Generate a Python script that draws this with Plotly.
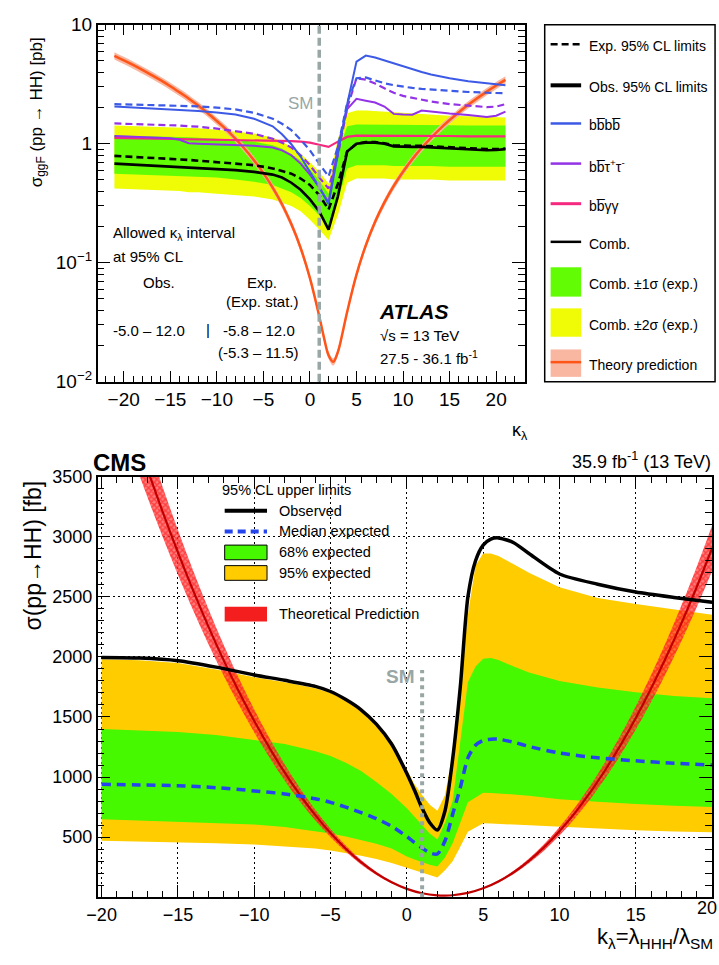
import plotly.graph_objects as go

W, H = 719, 965
FONT = "Liberation Sans, Arial, Helvetica, sans-serif"

# ---------------- ATLAS: sigma_ggF(pp -> HH) [pb] vs kappa_lambda ----------------
kl_atlas = [-21, -18, -15, -14, -13, -12, -10, -8, -6, -4, -3, -2, -1, 0, 1, 2, 3, 4,
            5, 6, 7, 8, 9, 10, 11, 12, 13, 15, 17, 19, 20, 21]
bbbb_obs = [2.05, 2.00, 1.95, 1.93, 1.90, 1.88, 1.83, 1.76, 1.62, 1.40, 1.20, 0.99, 0.78,
            0.58, 0.43, 0.31, 0.85, 2.15, 4.90, 5.50, 5.30, 5.00, 4.70, 4.45, 4.20, 4.00,
            3.82, 3.55, 3.35, 3.20, 3.15, 3.10]
bbbb_exp = [2.15, 2.13, 2.11, 2.10, 2.08, 2.06, 2.01, 1.94, 1.82, 1.62, 1.47, 1.30, 1.08,
            0.88, 0.68, 0.53, 0.94, 2.20, 3.55, 3.60, 3.40, 3.22, 3.10, 3.00, 2.94, 2.89,
            2.85, 2.78, 2.72, 2.68, 2.66, 2.65]
bbtt_obs = [1.16, 1.14, 1.11, 1.08, 1.01, 1.00, 0.99, 0.975, 0.96, 0.93, 0.88, 0.80, 0.68,
            0.55, 0.43, 0.32, 0.95, 1.95, 2.38, 2.30, 2.22, 2.05, 1.78, 1.76, 1.75, 1.90,
            1.86, 1.79, 1.74, 1.68, 1.72, 1.86]
bbtt_exp = [1.48, 1.46, 1.43, 1.42, 1.40, 1.39, 1.34, 1.28, 1.21, 1.10, 1.02, 0.93, 0.80,
            0.66, 0.52, 0.42, 0.80, 2.00, 3.55, 3.45, 3.20, 2.92, 2.68, 2.52, 2.42, 2.33,
            2.26, 2.15, 2.08, 2.03, 2.05, 2.15]
bbyy_obs = [1.12, 1.11, 1.10, 1.10, 1.09, 1.09, 1.08, 1.08, 1.07, 1.07, 1.06, 1.05, 1.04,
            1.02, 0.98, 0.94, 1.04, 1.14, 1.17, 1.17, 1.17, 1.17, 1.16, 1.16, 1.16, 1.16,
            1.16, 1.16, 1.15, 1.15, 1.15, 1.15]
comb_obs = [0.68, 0.66, 0.645, 0.64, 0.625, 0.62, 0.61, 0.60, 0.58, 0.55, 0.52, 0.47, 0.41,
            0.34, 0.27, 0.19, 0.36, 0.86, 1.00, 1.02, 1.02, 1.00, 0.95, 0.94, 0.94, 0.94,
            0.93, 0.91, 0.90, 0.88, 0.885, 0.90]
comb_exp = [0.79, 0.77, 0.75, 0.74, 0.73, 0.72, 0.70, 0.68, 0.66, 0.62, 0.59, 0.56, 0.51,
            0.45, 0.37, 0.28, 0.46, 0.86, 1.00, 1.03, 1.03, 1.01, 0.97, 0.96, 0.96, 0.96,
            0.95, 0.93, 0.92, 0.90, 0.90, 0.91]
comb_2s_hi = [1.42, 1.40, 1.38, 1.37, 1.36, 1.35, 1.31, 1.27, 1.22, 1.12, 1.04, 0.94, 0.82,
              0.70, 0.58, 0.46, 1.10, 1.80, 1.90, 1.90, 1.88, 1.86, 1.83, 1.80, 1.78, 1.77,
              1.75, 1.72, 1.70, 1.68, 1.67, 1.66]
comb_1s_hi = [1.17, 1.16, 1.15, 1.14, 1.13, 1.12, 1.10, 1.08, 1.04, 0.97, 0.91, 0.82, 0.72,
              0.61, 0.49, 0.38, 0.85, 1.40, 1.45, 1.45, 1.45, 1.45, 1.44, 1.44, 1.44, 1.43,
              1.43, 1.43, 1.42, 1.42, 1.42, 1.42]
comb_1s_lo = [0.56, 0.55, 0.54, 0.54, 0.53, 0.53, 0.52, 0.50, 0.48, 0.45, 0.42, 0.39, 0.35,
              0.30, 0.25, 0.20, 0.33, 0.62, 0.66, 0.66, 0.66, 0.66, 0.65, 0.65, 0.65, 0.65,
              0.65, 0.64, 0.64, 0.64, 0.64, 0.64]
comb_2s_lo = [0.42, 0.41, 0.40, 0.40, 0.39, 0.39, 0.38, 0.37, 0.36, 0.34, 0.32, 0.30, 0.27,
              0.23, 0.19, 0.155, 0.25, 0.47, 0.51, 0.51, 0.51, 0.51, 0.50, 0.50, 0.50, 0.50,
              0.50, 0.49, 0.49, 0.49, 0.49, 0.49]

kl_theory_atlas = list(range(-21, 1)) + [1, 1.5, 2, 2.5, 3, 3.5, 4] + list(range(5, 22))
theory_atlas = [5.48, 5.02, 4.59, 4.17, 3.77, 3.40, 3.04, 2.70, 2.39, 2.09, 1.81, 1.55,
                1.32, 1.10, 0.902, 0.724, 0.566, 0.428, 0.310, 0.211, 0.133, 0.0742,
                0.0355, 0.0236, 0.0167, 0.0147, 0.0178, 0.0257, 0.0387,
                0.0795, 0.140, 0.221, 0.321, 0.442, 0.582, 0.742, 0.922, 1.12, 1.34,
                1.58, 1.84, 2.12, 2.42, 2.74, 3.08, 3.44]
theory_atlas_rel_unc = 0.07

atlas_xticks = [-20, -15, -10, -5, 0, 5, 10, 15, 20]
atlas_yticks = [0.01, 0.1, 1, 10]
atlas_yticktext = ["10<sup>−2</sup>", "10<sup>−1</sup>", "1", "10"]

# ---------------- CMS: sigma(pp -> HH) [fb] vs k_lambda ----------------
kl_cms = [-20, -17.5, -15, -12.5, -10, -8, -6, -5, -4, -3, -2, -1, 0, 0.5, 1, 1.5, 2, 2.5,
          3, 3.5, 4, 4.5, 5, 5.5, 6, 7, 8, 10, 12.5, 15, 17.5, 20]
cms_obs = [1995, 1990, 1968, 1915, 1850, 1805, 1755, 1712, 1645, 1560, 1440, 1275, 1030,
           890, 740, 620, 560, 720, 1150, 1750, 2500, 2800, 2930, 2980, 2990, 2950, 2860,
           2690, 2605, 2540, 2495, 2455]
cms_exp = [940, 935, 928, 912, 885, 860, 820, 790, 750, 705, 655, 590, 505, 455, 410, 370,
           360, 470, 690, 910, 1160, 1265, 1305, 1315, 1315, 1290, 1255, 1200, 1160, 1135,
           1115, 1100]
cms_68_hi = [1400, 1390, 1375, 1350, 1310, 1275, 1215, 1175, 1120, 1050, 960, 860, 740, 670,
             600, 530, 480, 620, 800, 1300, 1790, 1920, 1985, 1990, 1975, 1920, 1870, 1800,
             1745, 1705, 1675, 1655]
cms_68_lo = [650, 640, 630, 618, 605, 585, 550, 530, 505, 475, 445, 405, 340, 315, 290, 270,
             255, 330, 450, 620, 790, 830, 870, 868, 865, 855, 845, 815, 795, 775, 762, 750]
cms_95_hi = [1980, 1972, 1950, 1895, 1830, 1790, 1740, 1700, 1640, 1560, 1450, 1300, 1060,
             940, 850, 770, 720, 850, 1200, 1770, 2350, 2760, 2860, 2860, 2840, 2770, 2700,
             2580, 2490, 2440, 2395, 2350]
cms_95_lo = [470, 465, 458, 450, 440, 425, 405, 390, 370, 345, 318, 285, 245, 225, 205, 185,
             165, 225, 300, 420, 545, 580, 615, 613, 610, 605, 598, 585, 570, 558, 548, 540]

kl_theory_cms = list(range(-20, 3)) + [2.5] + list(range(3, 21))
theory_cms = [4740, 4328, 3935, 3561, 3206, 2869, 2551, 2252, 1971, 1710, 1467, 1243, 1037,
              851, 683, 534, 404, 292, 199, 125, 70, 33.5, 15.7, 13.9, 16.8, 36.5, 75, 132,
              208, 303, 417, 549, 700, 870, 1059, 1266, 1492, 1737, 2001, 2283, 2584, 2904]
theory_cms_rel_unc = 0.065

cms_xticks = [-20, -15, -10, -5, 0, 5, 10, 15, 20]
cms_yticks = [500, 1000, 1500, 2000, 2500, 3000, 3500]

sm_kappa = 1
sm_line_top_cms = 1890

# ---------------- colours ----------------
ATLAS_YELLOW = "#effc05"
ATLAS_GREEN = "#62fc05"
ATLAS_BLUE = "#3c5ae6"
ATLAS_PURPLE = "#9332e6"
ATLAS_PINK = "#f5297f"
ATLAS_THEORY = "#ff5519"
ATLAS_THEORY_BAND = "#f9b6a0"
CMS_ORANGE = "#ffcc00"
CMS_GREEN = "#46f800"
CMS_BLUE = "#2444ee"
CMS_RED = "#ff0000"
SM_GREY = "#98a7a5"


def xp(px):
    return px / W


def yp(py):
    return 1 - py / H


fig = go.Figure()


def add_band(x, lo, hi, color, xa, ya, shape="linear", pattern=None):
    fig.add_trace(go.Scatter(x=x, y=lo, mode="lines", line=dict(width=0, color=color, shape=shape),
                             xaxis=xa, yaxis=ya, hoverinfo="skip", showlegend=False))
    extra = dict(fill="tonexty", fillcolor=color)
    if pattern is not None:
        extra["fillpattern"] = pattern
    fig.add_trace(go.Scatter(x=x, y=hi, mode="lines", line=dict(width=0, color=color, shape=shape),
                             xaxis=xa, yaxis=ya, hoverinfo="skip", showlegend=False, **extra))


def add_line(x, y, color, width, dash="solid", xa="x", ya="y", shape="linear", smoothing=1.0):
    fig.add_trace(go.Scatter(x=x, y=y, mode="lines",
                             line=dict(color=color, width=width, dash=dash, shape=shape,
                                       smoothing=smoothing),
                             xaxis=xa, yaxis=ya, hoverinfo="skip", showlegend=False))


# ---- ATLAS panel ----
add_band(kl_atlas, comb_2s_lo, comb_2s_hi, ATLAS_YELLOW, "x", "y")
add_band(kl_atlas, comb_1s_lo, comb_1s_hi, ATLAS_GREEN, "x", "y")
add_band(kl_theory_atlas,
         [v * (1 - theory_atlas_rel_unc) for v in theory_atlas],
         [v * (1 + theory_atlas_rel_unc) for v in theory_atlas],
         ATLAS_THEORY_BAND, "x", "y", shape="spline")
add_line(kl_theory_atlas, theory_atlas, ATLAS_THEORY, 2.5, shape="spline")
add_line(kl_atlas, bbyy_obs, ATLAS_PINK, 2.2)
add_line(kl_atlas, bbtt_exp, ATLAS_PURPLE, 2.2, dash="7px,4px")
add_line(kl_atlas, bbtt_obs, ATLAS_PURPLE, 2.0)
add_line(kl_atlas, bbbb_exp, ATLAS_BLUE, 2.2, dash="7px,4px")
add_line(kl_atlas, bbbb_obs, ATLAS_BLUE, 2.0)
add_line(kl_atlas, comb_exp, "black", 2.6, dash="7px,4px")
add_line(kl_atlas, comb_obs, "black", 2.6)

# ---- CMS panel ----
add_band(kl_cms, cms_95_lo, cms_95_hi, CMS_ORANGE, "x2", "y2")
add_band(kl_cms, cms_68_lo, cms_68_hi, CMS_GREEN, "x2", "y2")
add_band(kl_theory_cms,
         [v * (1 - theory_cms_rel_unc) for v in theory_cms],
         [v * (1 + theory_cms_rel_unc) for v in theory_cms],
         "rgba(255,40,40,0.75)", "x2", "y2", shape="spline",
         pattern=dict(shape="x", fgcolor=CMS_RED, bgcolor="rgba(255,70,70,0.7)",
                      size=4, solidity=0.6))
add_line(kl_theory_cms, theory_cms, "#c00000", 2.2, xa="x2", ya="y2", shape="spline")
add_line(kl_cms, cms_exp, CMS_BLUE, 3.5, dash="9px,6px", xa="x2", ya="y2",
         shape="spline", smoothing=0.7)
add_line(kl_cms, cms_obs, "black", 3.5, xa="x2", ya="y2", shape="spline", smoothing=0.7)

# ---- axes ----
frame = dict(showline=True, linecolor="black", linewidth=1.5, mirror="allticks",
             ticks="inside", tickcolor="black", zeroline=False)

fig.update_layout(
    width=W, height=H, margin=dict(l=0, r=0, t=0, b=0),
    paper_bgcolor="white", plot_bgcolor="white", showlegend=False,
    font=dict(family=FONT, color="black"),
    xaxis=dict(domain=[xp(88), xp(522)], anchor="y", range=[-22.8, 23.1],
               tickmode="array", tickvals=atlas_xticks, ticklen=11, tickwidth=1.2,
               minor=dict(ticks="inside", ticklen=6, tickwidth=1, dtick=1, tick0=0,
                          tickcolor="black"),
               showgrid=False, tickfont=dict(size=19), **frame),
    yaxis=dict(domain=[yp(380), yp(15)], anchor="x", type="log", range=[-2, 1],
               tickmode="array", tickvals=atlas_yticks, ticktext=atlas_yticktext,
               ticklen=13, tickwidth=1.2,
               minor=dict(ticks="inside", ticklen=7, tickwidth=1, tickcolor="black",
                          tickvals=[m * d for d in (0.01, 0.1, 1) for m in range(2, 10)]),
               showgrid=False, tickfont=dict(size=19), **frame),
    xaxis2=dict(domain=[xp(88), xp(712)], anchor="y2", range=[-20.26, 20.0],
                tickmode="array", tickvals=cms_xticks, ticklen=13, tickwidth=1.2,
                minor=dict(ticks="inside", ticklen=7, tickwidth=1, dtick=1, tick0=0,
                           tickcolor="black", showgrid=False),
                showgrid=True, gridcolor="black", griddash="2px,3px", gridwidth=1,
                tickfont=dict(size=18), **frame),
    yaxis2=dict(domain=[yp(907), yp(477)], anchor="x2", range=[0, 3500],
                tickmode="array", tickvals=cms_yticks, ticklen=13, tickwidth=1.2,
                minor=dict(ticks="inside", ticklen=7, tickwidth=1, dtick=100, tick0=0,
                           tickcolor="black", showgrid=False),
                showgrid=True, gridcolor="black", griddash="2px,3px", gridwidth=1,
                tickfont=dict(size=18), **frame),
)

shapes = []
# SM reference lines
shapes.append(dict(type="line", xref="x", yref="y domain", x0=sm_kappa, x1=sm_kappa,
                   y0=0, y1=1, line=dict(color=SM_GREY, width=3.5, dash="8px,4px"),
                   layer="above"))
shapes.append(dict(type="line", xref="x2", yref="y2", x0=sm_kappa, x1=sm_kappa,
                   y0=0, y1=sm_line_top_cms, line=dict(color=SM_GREY, width=4, dash="4px,4px"),
                   layer="above"))

annotations = []


def note(text, x, y, size=15, xanchor="left", yanchor="middle", color="black", angle=0):
    annotations.append(dict(text=text, x=xp(x), y=yp(y), xref="paper", yref="paper",
                            showarrow=False, xanchor=xanchor, yanchor=yanchor,
                            textangle=angle, font=dict(size=size, color=color, family=FONT)))


# ---- ATLAS legend (framed box on the right) ----
shapes.append(dict(type="rect", xref="paper", yref="paper", x0=xp(542), x1=xp(715),
                   y0=yp(380), y1=yp(15), line=dict(color="black", width=1.5)))
atlas_leg_lines = [
    (35, "Exp. 95% CL limits", "black", 2.5, "7px,4px"),
    (77, "Obs. 95% CL limits", "black", 4, "solid"),
    (116, "bb\u0305bb\u0305", ATLAS_BLUE, 2.5, "solid"),
    (157, "bb\u0305τ<sup>+</sup>τ<sup>-</sup>", ATLAS_PURPLE, 2.5, "solid"),
    (198, "bb\u0305γγ", ATLAS_PINK, 3, "solid"),
    (237, "Comb.", "black", 2.5, "solid"),
]
for y, label, col, wd, ds in atlas_leg_lines:
    shapes.append(dict(type="line", xref="paper", yref="paper", x0=xp(548), x1=xp(579),
                       y0=yp(y), y1=yp(y), line=dict(color=col, width=wd, dash=ds)))
    note(label, 585, y + 2, size=14)
atlas_leg_boxes = [
    (263, 293, ATLAS_GREEN, "Comb. ±1σ (exp.)"),
    (305, 334, ATLAS_YELLOW, "Comb. ±2σ (exp.)"),
    (347, 375, ATLAS_THEORY_BAND, "Theory prediction"),
]
for y0, y1, col, label in atlas_leg_boxes:
    shapes.append(dict(type="rect", xref="paper", yref="paper", x0=xp(548), x1=xp(579),
                       y0=yp(y1), y1=yp(y0), fillcolor=col, line=dict(width=0)))
    note(label, 585, (y0 + y1) / 2 + 2, size=14)
shapes.append(dict(type="line", xref="paper", yref="paper", x0=xp(548), x1=xp(579),
                   y0=yp(360), y1=yp(360), line=dict(color=ATLAS_THEORY, width=2.5)))

# ---- ATLAS texts ----
note("σ<sub>ggF</sub> (pp → HH) [pb]", 27, 105, size=17, xanchor="center", angle=-90)
note("κ<sub>λ</sub>", 517, 431, size=18, xanchor="center")
note("SM", 310, 96, size=17, xanchor="right", color=SM_GREY)
note("Allowed κ<sub>λ</sub> interval", 102, 228, size=15)
note("at 95% CL", 102, 252, size=15)
note("Obs.", 150, 279, size=15, xanchor="center")
note("Exp.", 255, 279, size=15, xanchor="center")
note("(Exp. stat.)", 255, 298, size=15, xanchor="center")
note("-5.0 – 12.0", 102, 328, size=15)
note("|", 200, 327, size=15, xanchor="center")
note("-5.8 – 12.0", 213, 328, size=15)
note("(-5.3 – 11.5)", 208, 350, size=15)
note("<b><i>ATLAS</i></b>", 372, 308, size=21)
note("√s = 13 TeV", 373, 333, size=15)
note("27.5 - 36.1 fb<sup>-1</sup>", 373, 355, size=15)

# ---- CMS legend ----
note("95% CL upper limits", 212, 491, size=14.5)
shapes.append(dict(type="line", xref="paper", yref="paper", x0=xp(217), x1=xp(260),
                   y0=yp(512), y1=yp(512), line=dict(color="black", width=4)))
note("Observed", 270, 512, size=14.5)
shapes.append(dict(type="line", xref="paper", yref="paper", x0=xp(217), x1=xp(260),
                   y0=yp(533), y1=yp(533), line=dict(color=CMS_BLUE, width=4, dash="8px,5px")))
note("Median expected", 270, 533, size=14.5)
for y0, y1, col, label in [(547, 562, CMS_GREEN, "68% expected"),
                           (568, 583, CMS_ORANGE, "95% expected")]:
    shapes.append(dict(type="rect", xref="paper", yref="paper", x0=xp(217), x1=xp(260),
                       y0=yp(y1), y1=yp(y0), fillcolor=col, line=dict(color="black", width=1)))
    note(label, 270, (y0 + y1) / 2, size=14.5)
shapes.append(dict(type="rect", xref="paper", yref="paper", x0=xp(217), x1=xp(260),
                   y0=yp(625), y1=yp(610), fillcolor="#f41e1e", line=dict(width=0)))
note("Theoretical Prediction", 270, 617, size=14.5)

# ---- CMS texts ----
note("<b>CMS</b>", 81, 463, size=24)
note("35.9 fb<sup>-1</sup> (13 TeV)", 713, 461, size=18, xanchor="right")
note("σ(pp→HH) [fb]", 22, 558, size=23, xanchor="center", angle=-90)
note("k<sub>λ</sub>=λ<sub>HHH</sub>/λ<sub>SM</sub>", 715, 949, size=22, xanchor="right")
note("<b>SM</b>", 412, 681, size=19, xanchor="right", color=SM_GREY)
# last x tick label of the CMS axis sits at the page edge
note("20", 719, 918, size=18, xanchor="right")

fig.update_layout(shapes=shapes, annotations=annotations)
fig.write_html("out.html")
